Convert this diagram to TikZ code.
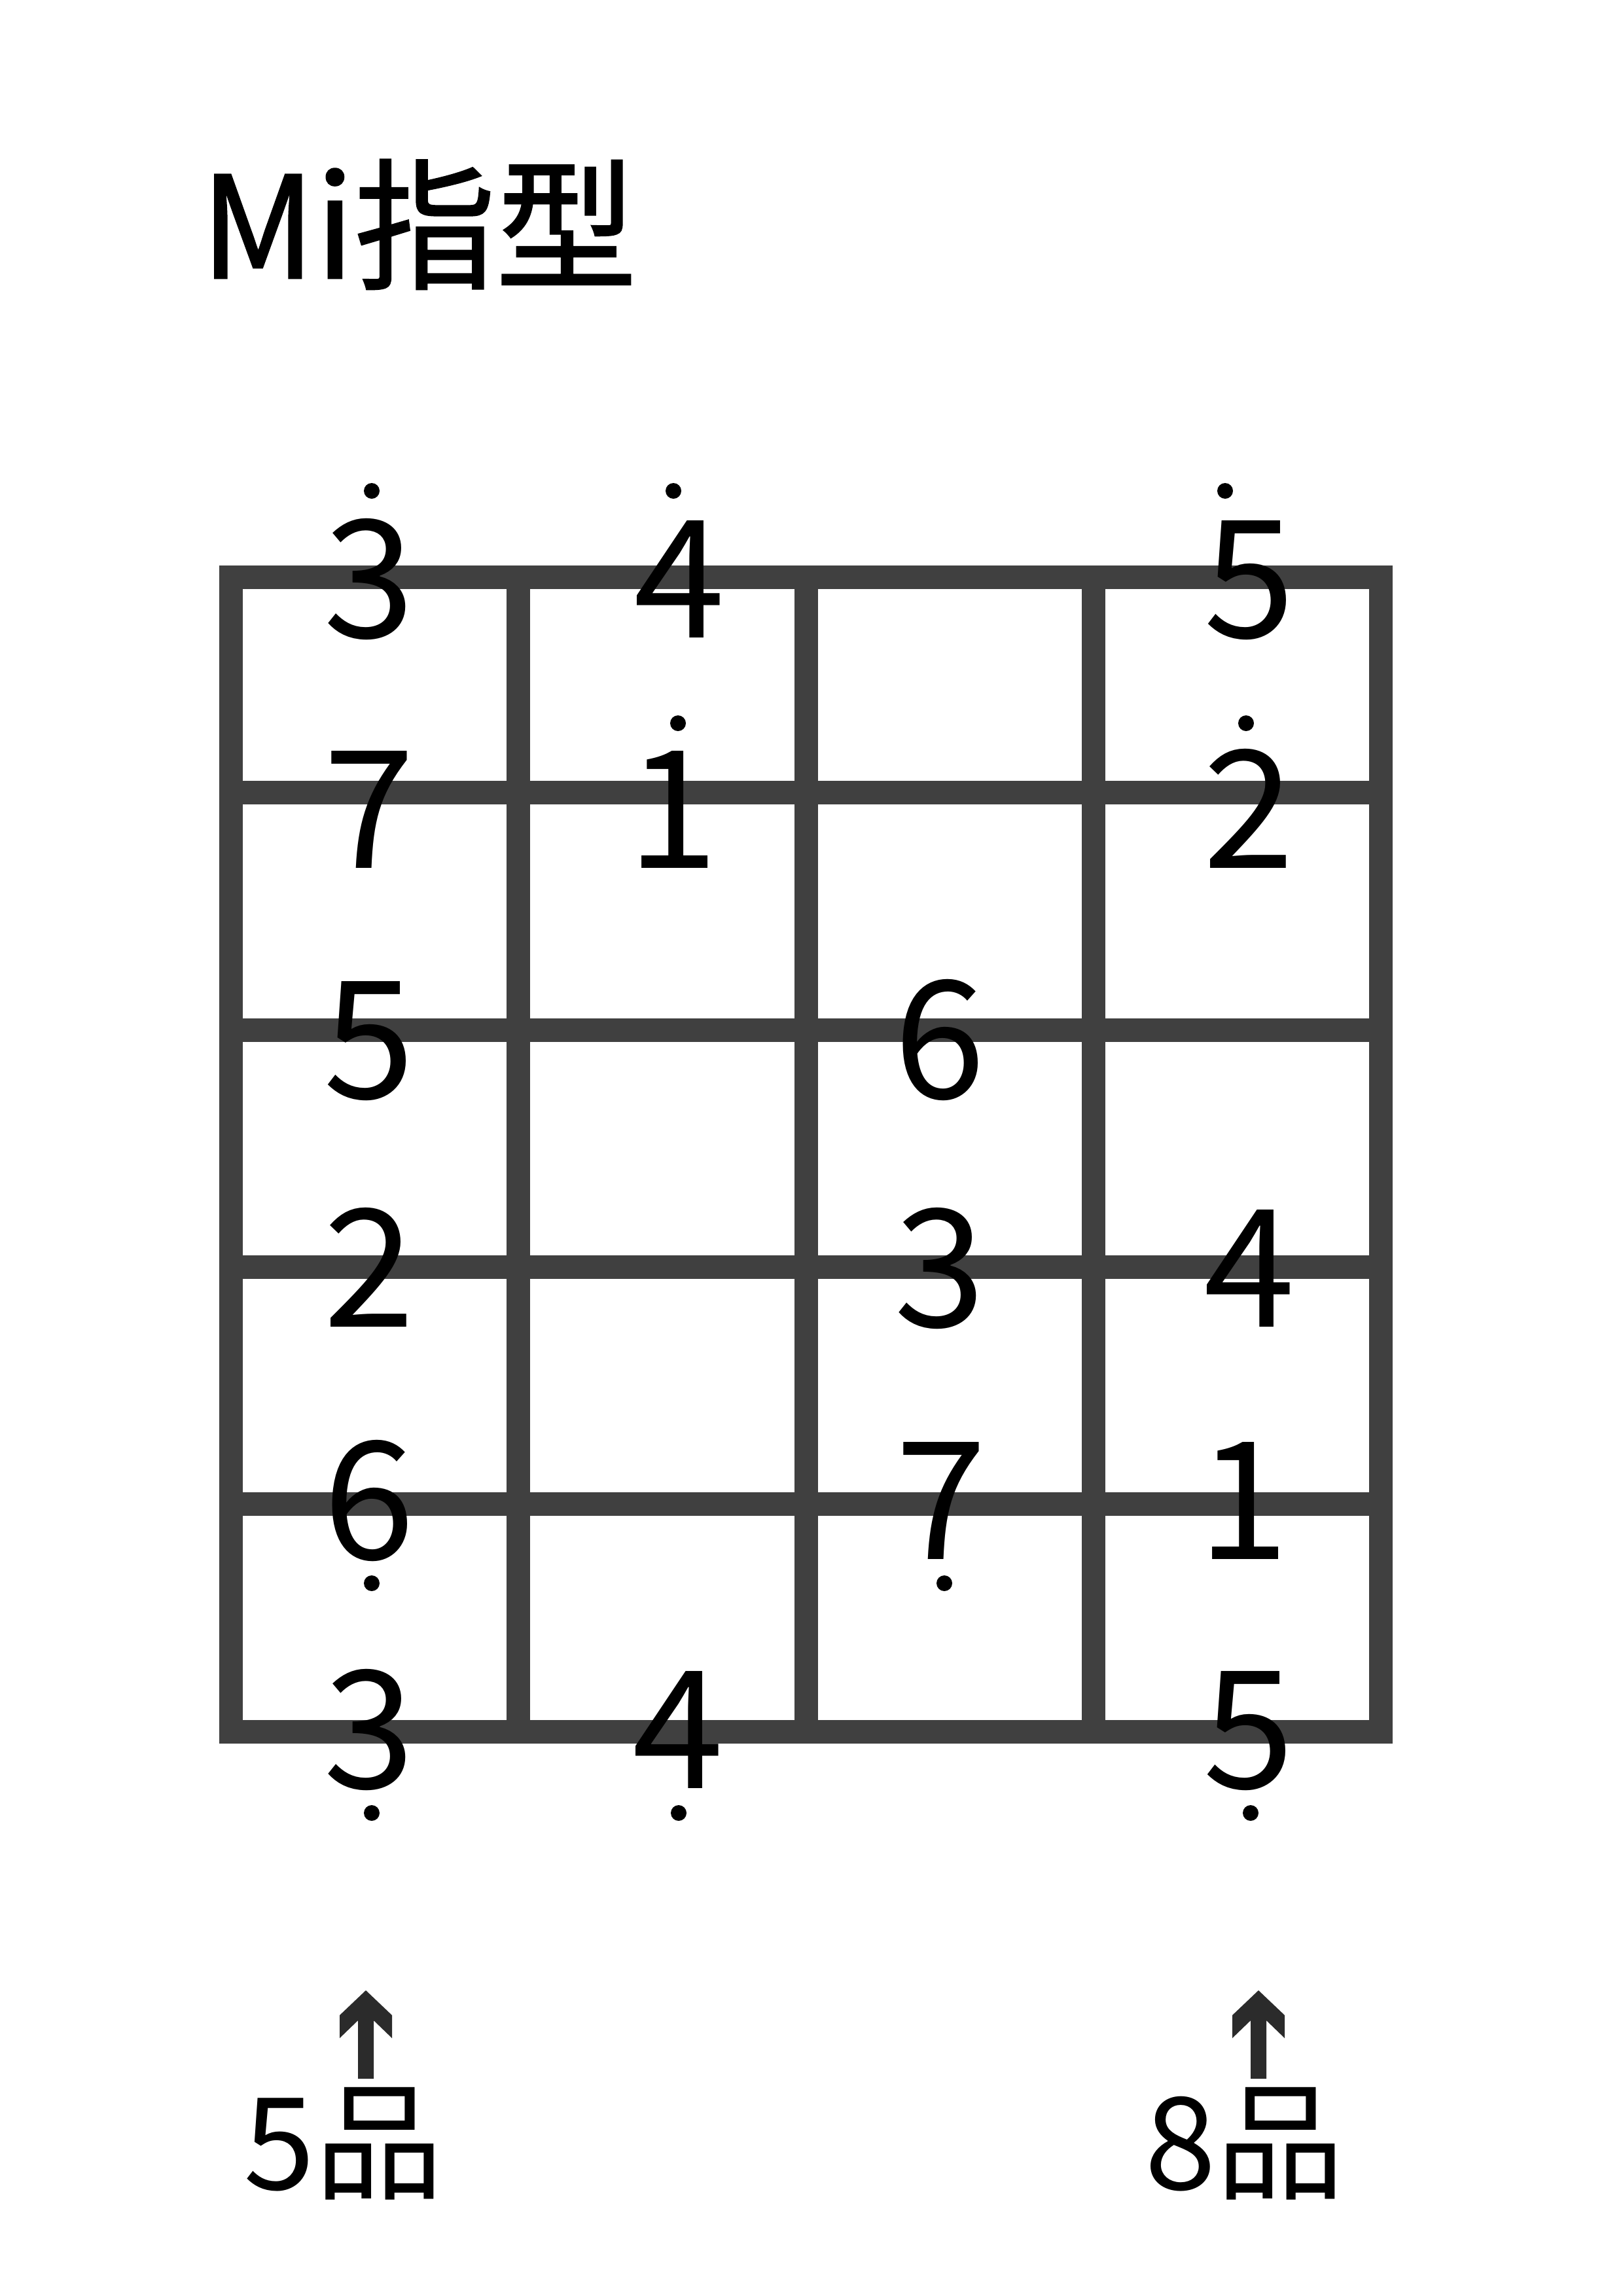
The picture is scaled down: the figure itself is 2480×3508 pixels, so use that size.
\documentclass[tikz,border=0pt]{standalone}
\usepackage{fontspec}
\setmainfont{Noto Sans CJK SC}
\newfontfamily\titlefont{Noto Sans CJK SC}[FakeBold=1.2]
\definecolor{gridgray}{HTML}{404040}
\definecolor{arrowgray}{HTML}{2B2B2B}
\begin{document}
\begin{tikzpicture}[x=1pt,y=-1pt,
  gridline/.style={draw=gridgray,line width=36pt},
  digit/.style={font=\fontsize{251}{251}\selectfont,inner sep=0pt,anchor=base,text=black},
  dotmark/.style={circle,fill=black,inner sep=0pt,minimum size=24pt},
  titletext/.style={font=\titlefont\fontsize{216}{216}\selectfont,inner sep=0pt,anchor=base},
  fretlabel/.style={font=\fontsize{196}{196}\selectfont,inner sep=0pt,anchor=base},
  uparrow/.style={fill=arrowgray}]
\useasboundingbox (0,0) rectangle (2480,3508);
\fill[white] (0,0) rectangle (2480,3508);
% title
\node[titletext] (title) at (640,425) {Mi指型};
% grid
\draw[gridline] (353,882) rectangle (2110,2646);
\foreach \x in {792,1232,1671} \draw[gridline] (\x,882) -- (\x,2646);
\foreach \y in {1211,1574,1936,2298} \draw[gridline] (353,\y) -- (2110,\y);
% digits
\node[digit] (a1) at (564,974) {3};
\node[digit] (a2) at (1038,974) {4};
\node[digit] (a4) at (1909,974) {5};
\node[digit] (b1) at (564,1326) {7};
\node[digit] (b2) at (1028,1326) {1};
\node[digit] (b4) at (1908,1326) {2};
\node[digit] (c1) at (564,1678) {5};
\node[digit] (c3) at (1436,1678) {6};
\node[digit] (d1) at (564,2027) {2};
\node[digit] (d3) at (1436,2027) {3};
\node[digit] (d4) at (1909,2027) {4};
\node[digit] (e1) at (564,2382) {6};
\node[digit] (e3) at (1438,2382) {7};
\node[digit] (e4) at (1900,2382) {1};
\node[digit] (f1) at (564,2732) {3};
\node[digit] (f2) at (1036,2732) {4};
\node[digit] (f4) at (1908,2732) {5};
% octave dots
\node[dotmark] (da1) at (568,750) {};
\node[dotmark] (da2) at (1029,750) {};
\node[dotmark] (da4) at (1872,750) {};
\node[dotmark] (db2) at (1036,1105) {};
\node[dotmark] (db4) at (1904,1105) {};
\node[dotmark] (de1) at (568,2419) {};
\node[dotmark] (de3) at (1443,2419) {};
\node[dotmark] (df1) at (568,2770) {};
\node[dotmark] (df2) at (1037,2770) {};
\node[dotmark] (df4) at (1911,2770) {};
% arrows
\foreach \ax in {559,1923}
  \fill[uparrow] (\ax,3041) -- ++(40,38) -- ++(0,35) -- ++(-28,-27) -- ++(0,89)
     -- ++(-24,0) -- ++(0,-89) -- ++(-28,27) -- ++(0,-35) -- cycle;
% fret labels
\node[fretlabel] (fret5) at (525,3345) {5品};
\node[fretlabel] (fret8) at (1902,3345) {8品};
\end{tikzpicture}
\end{document}
